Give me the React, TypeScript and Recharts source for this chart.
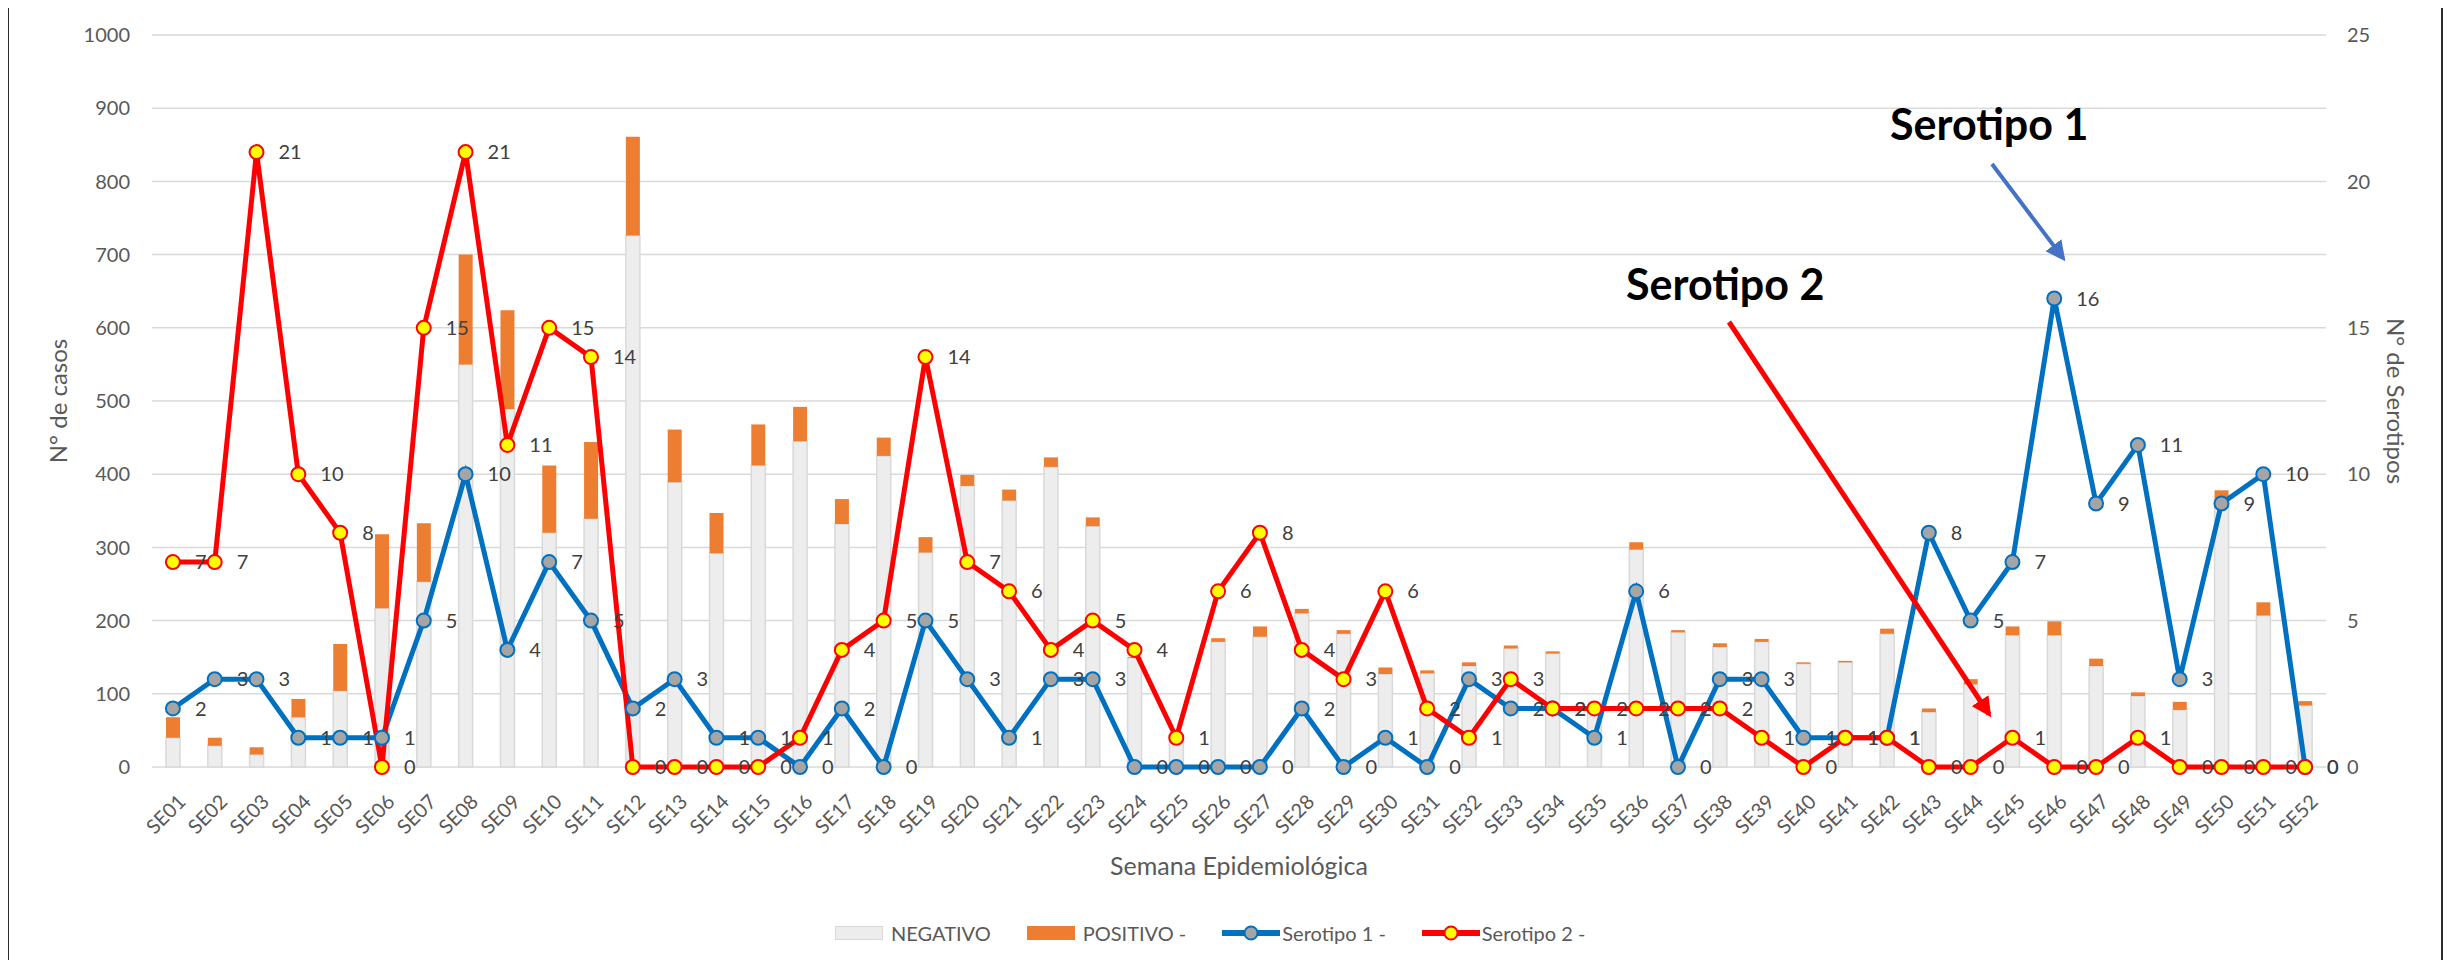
import React from 'react';
import {
  ComposedChart,
  Bar,
  Line,
  XAxis,
  YAxis,
  CartesianGrid,
  LabelList,
} from 'recharts';

const semanas = [
  'SE01', 'SE02', 'SE03', 'SE04', 'SE05', 'SE06', 'SE07', 'SE08', 'SE09', 'SE10',
  'SE11', 'SE12', 'SE13', 'SE14', 'SE15', 'SE16', 'SE17', 'SE18', 'SE19', 'SE20',
  'SE21', 'SE22', 'SE23', 'SE24', 'SE25', 'SE26', 'SE27', 'SE28', 'SE29', 'SE30',
  'SE31', 'SE32', 'SE33', 'SE34', 'SE35', 'SE36', 'SE37', 'SE38', 'SE39', 'SE40',
  'SE41', 'SE42', 'SE43', 'SE44', 'SE45', 'SE46', 'SE47', 'SE48', 'SE49', 'SE50',
  'SE51', 'SE52',
];

const negativo = [
  40, 29, 17, 68, 104, 217, 253, 550, 489, 320,
  339, 726, 389, 292, 412, 445, 332, 425, 293, 384,
  364, 410, 329, 149, 38, 171, 178, 210, 182, 127,
  128, 138, 162, 155, 78, 297, 184, 164, 171, 141,
  143, 182, 75, 113, 180, 180, 138, 97, 78, 367,
  207, 84,
];

const positivo = [
  28, 11, 10, 25, 64, 101, 80, 150, 135, 92,
  105, 135, 72, 55, 56, 47, 34, 25, 21, 15,
  15, 13, 12, 1, 1, 5, 14, 6, 5, 9,
  4, 5, 4, 3, 0, 10, 3, 5, 4, 2,
  2, 7, 5, 7, 12, 19, 10, 5, 11, 11,
  18, 6,
];

const serotipo1 = [
  2, 3, 3, 1, 1, 1, 5, 10, 4, 7,
  5, 2, 3, 1, 1, 0, 2, 0, 5, 3,
  1, 3, 3, 0, 0, 0, 0, 2, 0, 1,
  0, 3, 2, 2, 1, 6, 0, 3, 3, 1,
  1, 1, 8, 5, 7, 16, 9, 11, 3, 9,
  10, 0,
];

const serotipo2 = [
  7, 7, 21, 10, 8, 0, 15, 21, 11, 15,
  14, 0, 0, 0, 0, 1, 4, 5, 14, 7,
  6, 4, 5, 4, 1, 6, 8, 4, 3, 6,
  2, 1, 3, 2, 2, 2, 2, 2, 1, 0,
  1, 1, 0, 0, 1, 0, 0, 1, 0, 0,
  0, 0,
];

const casosTicks = [0, 100, 200, 300, 400, 500, 600, 700, 800, 900, 1000];
const serotipoTicks = [0, 5, 10, 15, 20, 25];

const data = semanas.map((semana, i) => ({
  semana,
  negativo: negativo[i],
  positivo: positivo[i],
  serotipo1: serotipo1[i],
  serotipo2: serotipo2[i],
}));

const FONT = 'Lato, "DejaVu Sans", sans-serif';
const GRAY_TEXT = '#595959';
const LABEL_TEXT = '#404040';
const COLORS = {
  negativo: '#EDEDED',
  negativoBorder: '#D9D9D9',
  positivo: '#ED7D31',
  sero1: '#0070C0',
  sero1Dot: '#A5A5A5',
  sero2: '#FF0000',
  sero2Dot: '#FFFF00',
  grid: '#D9D9D9',
};

const W = 2436;
const H = 963;

const LegendItem = ({ kind, color, dot, label }: { kind: 'rect' | 'line'; color: string; dot?: string; label: string }) => (
  <div style={{ display: 'flex', alignItems: 'center', marginRight: 36 }}>
    {kind === 'rect' ? (
      <div
        style={{
          width: 48,
          height: 14,
          background: color,
          border: color === COLORS.negativo ? `1.5px solid ${COLORS.negativoBorder}` : 'none',
          marginRight: 8,
          boxSizing: 'border-box',
        }}
      />
    ) : (
      <svg width={58} height={18} style={{ marginRight: 2 }}>
        <line x1={0} y1={9} x2={58} y2={9} stroke={color} strokeWidth={6} strokeLinecap="round" />
        <circle cx={29} cy={9} r={6.5} fill={dot} stroke={color} strokeWidth={2} />
      </svg>
    )}
    <span style={{ fontFamily: FONT, fontSize: 20, color: GRAY_TEXT }}>{label}</span>
  </div>
);

export default function App() {
  return (
    <div
      style={{
        position: 'relative',
        width: W,
        height: H,
        marginTop: -3,
        marginLeft: -1,
        marginBottom: -8,
        background: '#fff',
      }}
    >
      <style>{'body{overflow:hidden}'}</style>
      <ComposedChart
        width={W}
        height={H}
        data={data}
        margin={{ top: 30, right: 42, bottom: 91, left: 46 }}
        barCategoryGap="66%"
        style={{ fontFamily: FONT }}
      >
        <CartesianGrid yAxisId="left" vertical={false} stroke={COLORS.grid} strokeWidth={1.5} />
        <XAxis
          dataKey="semana"
          interval={0}
          angle={-45}
          textAnchor="end"
          height={110}
          tickLine={false}
          axisLine={false}
          tickSize={6}
          tickMargin={20}
          dx={4}
          tick={{ fill: GRAY_TEXT, fontSize: 20, fontFamily: FONT }}
          label={{
            value: 'Semana Epidemiológica',
            position: 'insideBottom',
            offset: 2,
            style: { fill: GRAY_TEXT, fontSize: 25, fontFamily: FONT },
          }}
        />
        <YAxis
          yAxisId="left"
          width={99}
          domain={[0, 1000]}
          ticks={casosTicks}
          axisLine={false}
          tickLine={false}
          tickSize={6}
          tickMargin={16}
          tick={{ fill: GRAY_TEXT, fontSize: 20, fontFamily: FONT }}
          label={{
            value: 'N° de casos',
            angle: -90,
            position: 'insideLeft',
            offset: 5,
            style: { textAnchor: 'middle', fill: GRAY_TEXT, fontSize: 24, fontFamily: FONT },
          }}
        />
        <YAxis
          yAxisId="right"
          orientation="right"
          width={75}
          domain={[0, 25]}
          ticks={serotipoTicks}
          axisLine={false}
          tickLine={false}
          tickSize={6}
          tickMargin={15}
          tick={{ fill: GRAY_TEXT, fontSize: 20, fontFamily: FONT }}
          label={{
            value: 'N° de Serotipos',
            angle: 90,
            position: 'insideRight',
            offset: 5,
            style: { textAnchor: 'middle', fill: GRAY_TEXT, fontSize: 24, fontFamily: FONT },
          }}
        />
        <Bar
          yAxisId="left"
          dataKey="negativo"
          stackId="casos"
          fill={COLORS.negativo}
          stroke={COLORS.negativoBorder}
          strokeWidth={1.5}
          barSize={14}
          isAnimationActive={false}
        />
        <Bar
          yAxisId="left"
          dataKey="positivo"
          stackId="casos"
          fill={COLORS.positivo}
          barSize={14}
          isAnimationActive={false}
        />
        <Line
          yAxisId="right"
          type="linear"
          dataKey="serotipo1"
          stroke={COLORS.sero1}
          strokeWidth={5}
          dot={{ r: 7, fill: COLORS.sero1Dot, stroke: COLORS.sero1, strokeWidth: 2 }}
          isAnimationActive={false}
        >
          <LabelList
            dataKey="serotipo1"
            position="right"
            offset={22}
            style={{ fill: LABEL_TEXT, fontSize: 20, fontFamily: FONT }}
          />
        </Line>
        <Line
          yAxisId="right"
          type="linear"
          dataKey="serotipo2"
          stroke={COLORS.sero2}
          strokeWidth={5}
          dot={{ r: 7, fill: COLORS.sero2Dot, stroke: COLORS.sero2, strokeWidth: 2 }}
          isAnimationActive={false}
        >
          <LabelList
            dataKey="serotipo2"
            position="right"
            offset={22}
            style={{ fill: LABEL_TEXT, fontSize: 20, fontFamily: FONT }}
          />
        </Line>
      </ComposedChart>

      {/* anotaciones y borde */}
      <svg
        width={W}
        height={H}
        style={{ position: 'absolute', left: 0, top: 0, pointerEvents: 'none' }}
      >
        <defs>
          <marker id="flechaAzul" viewBox="0 0 10 10" refX="8" refY="5" markerWidth="5" markerHeight="5" orient="auto">
            <path d="M0,0 L10,5 L0,10 z" fill="#4472C4" />
          </marker>
          <marker id="flechaRoja" viewBox="0 0 10 10" refX="8" refY="5" markerWidth="4" markerHeight="4" orient="auto">
            <path d="M0,0 L10,5 L0,10 z" fill="#FF0000" />
          </marker>
        </defs>
        <text x={1883} y={135} fontFamily={FONT} fontWeight="bold" fontSize={43} fill="#000">
          Serotipo 1
        </text>
        <text x={1619} y={295} fontFamily={FONT} fontWeight="bold" fontSize={43} fill="#000">
          Serotipo 2
        </text>
        <line x1={1985} y1={159} x2={2056} y2={253} stroke="#4472C4" strokeWidth={4} markerEnd="url(#flechaAzul)" />
        <line x1={1722} y1={317} x2={1982} y2={709} stroke="#FF0000" strokeWidth={5} markerEnd="url(#flechaRoja)" />
        <polyline
          points={`1,${H} 1,1 ${W - 1},1 ${W - 1},${H}`}
          fill="none"
          stroke="#2b2b2b"
          strokeWidth={2}
        />
      </svg>

      {/* leyenda */}
      <div
        style={{
          position: 'absolute',
          left: 828,
          top: 916,
          display: 'flex',
          alignItems: 'center',
        }}
      >
        <LegendItem kind="rect" color={COLORS.negativo} label="NEGATIVO" />
        <LegendItem kind="rect" color={COLORS.positivo} label="POSITIVO -" />
        <LegendItem kind="line" color={COLORS.sero1} dot={COLORS.sero1Dot} label="Serotipo 1 -" />
        <LegendItem kind="line" color={COLORS.sero2} dot={COLORS.sero2Dot} label="Serotipo 2 -" />
      </div>
    </div>
  );
}
